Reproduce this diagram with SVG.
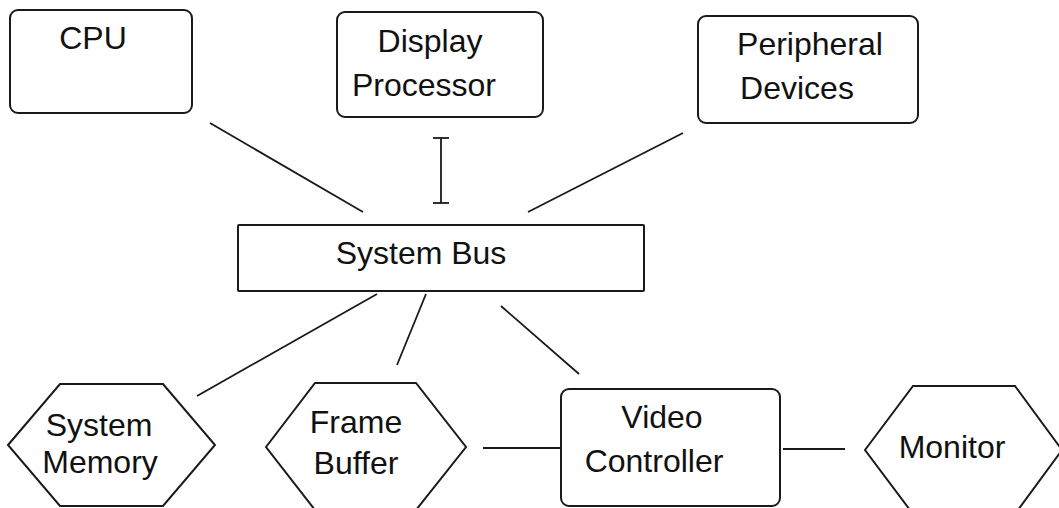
<svg xmlns="http://www.w3.org/2000/svg" width="1059" height="508" viewBox="0 0 1059 508">
<style>
.box{fill:#fff;stroke:#1a1a1a;stroke-width:2}
.t{font-family:"Liberation Sans",Arial,sans-serif;font-size:32px;fill:#111;text-anchor:middle}
.c{stroke:#1a1a1a;stroke-width:1.8;fill:none}
</style>
<rect width="1059" height="508" fill="#fff"/>
<g id="connectors">
<line class="c" x1="210" y1="123" x2="363" y2="212"/>
<line class="c" x1="441" y1="138" x2="441" y2="203"/>
<line class="c" x1="433" y1="138" x2="449" y2="138" stroke-width="1.2"/>
<line class="c" x1="433" y1="203" x2="449" y2="203" stroke-width="1.2"/>
<line class="c" x1="683" y1="133" x2="528" y2="212"/>
<line class="c" x1="377" y1="294" x2="197" y2="396"/>
<line class="c" x1="426" y1="294" x2="397" y2="365"/>
<line class="c" x1="501" y1="306" x2="579" y2="374"/>
<line class="c" x1="483" y1="448" x2="560" y2="448"/>
<line class="c" x1="783" y1="449" x2="845" y2="449"/>
</g>
<g id="cpu">
<rect class="box" x="10" y="10" width="182" height="103" rx="8"/>
<text class="t" x="93" y="49">CPU</text>
</g>
<g id="display-processor">
<rect class="box" x="337" y="12" width="206" height="105" rx="8"/>
<text class="t" x="430" y="52">Display</text>
<text class="t" x="424" y="96">Processor</text>
</g>
<g id="peripheral-devices">
<rect class="box" x="698" y="16" width="220" height="107" rx="8"/>
<text class="t" x="810" y="55">Peripheral</text>
<text class="t" x="797" y="99">Devices</text>
</g>
<g id="system-bus">
<rect class="box" x="238" y="225" width="406" height="66" rx="1"/>
<text class="t" x="421" y="264">System Bus</text>
</g>
<g id="system-memory">
<polygon class="box" points="8,445 60,384 163,384 215,445 163,506 60,506"/>
<text class="t" x="99" y="436">System</text>
<text class="t" x="100" y="473">Memory</text>
</g>
<g id="frame-buffer">
<polygon class="box" points="266,447 315,383 416,383 466,447 416,510 315,510"/>
<text class="t" x="356" y="433">Frame</text>
<text class="t" x="356" y="474">Buffer</text>
</g>
<g id="video-controller">
<rect class="box" x="561" y="389" width="219" height="117" rx="8"/>
<text class="t" x="662" y="428">Video</text>
<text class="t" x="654" y="472">Controller</text>
</g>
<g id="monitor">
<polygon class="box" points="865,450 913,386 1015,386 1062,450 1015,514 913,514"/>
<text class="t" x="952" y="458">Monitor</text>
</g>
</svg>
